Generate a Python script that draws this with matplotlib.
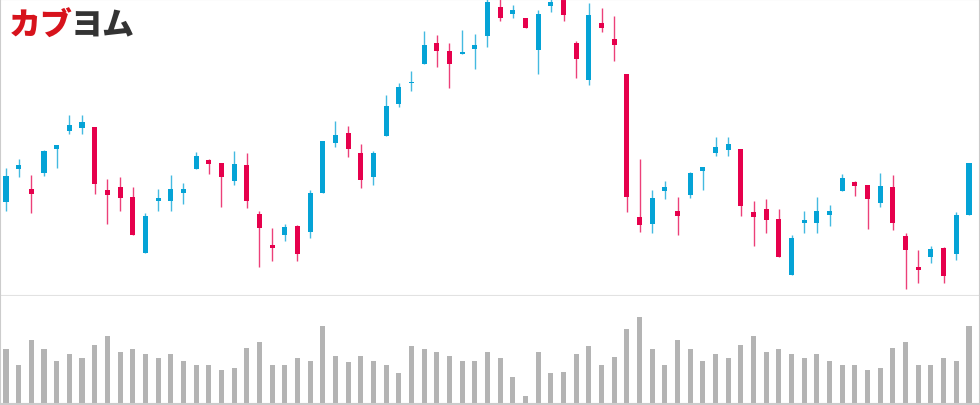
import numpy as np
import matplotlib.pyplot as plt

plt.rcParams['font.family'] = ['Noto Sans CJK JP', 'DejaVu Sans']

# daily prices (arbitrary units), one entry per session
opens = [97.3, 129.7, 110, 126.3, 149.7, 167.7, 171, 172, 108.7, 112.3,
         102, 46, 97.7, 97.7, 105.7, 129.7, 139, 136, 118, 134,
         85, 54.3, 64.3, 72.7, 66.7, 106, 156.3, 166, 146, 122.3,
         163, 194.7, 216, 235, 256.3, 248.3, 245, 250.3, 262.7, 292,
         284.7, 280.7, 248.7, 292.7, 302, 256, 218.7, 276, 260, 224.7,
         82, 75.3, 107.7, 88, 104.3, 127.7, 145.7, 149, 150, 86.7,
         90.3, 80, 24, 75.7, 75.7, 83.7, 107.7, 117, 114, 96,
         112, 63, 32.3, 42.3, 50.7, 44.7, 84]
highs = [131, 140.3, 123.7, 149, 154, 184, 184.3, 172, 119.7, 122.3,
         112.3, 86.3, 110, 124.3, 116, 146.7, 140, 136, 148, 146.3,
         87.7, 70.7, 75, 74.3, 109, 158, 177.7, 172.7, 155, 148,
         203.7, 216, 228, 267.7, 264, 256.3, 269, 265.3, 301, 301,
         294.3, 280.7, 289, 301, 303, 258, 295.7, 290.7, 283, 224.7,
         140.3, 109, 118.3, 101.7, 127, 132, 162, 162.3, 150, 97.7,
         100.3, 90.3, 64.3, 88, 102.3, 94, 124.7, 118, 114, 126,
         124.3, 65.7, 48.7, 53, 52.3, 87, 136]
lows = [87.7, 122.3, 86.3, 122.7, 131.3, 165.3, 165.3, 105, 75, 88,
        64, 46, 87.7, 87.7, 95, 129.7, 125, 91.7, 114, 90.7,
        32, 37.7, 58.3, 38.3, 61.3, 106, 152, 142.3, 111, 114,
        163, 192.3, 207.7, 235, 232.3, 210.7, 245, 230, 252.3, 278.3,
        281.3, 270.7, 225.3, 286.7, 278.3, 221.3, 214, 267.3, 238, 87.3,
        66.7, 65.7, 100.3, 64.3, 100.7, 109.3, 143.3, 143.3, 83, 53,
        66, 42, 24, 65.7, 65.7, 73, 107.7, 103, 69.7, 92,
        68.7, 10, 15.7, 36.3, 16.3, 39.3, 84]
closes = [123.3, 134, 105.3, 147.7, 154, 174, 177, 115, 104, 100.7,
          64, 83.3, 100.7, 109.7, 110, 142.7, 135, 122.3, 135.3, 97.7,
          70.7, 50.7, 72.3, 45.3, 106, 158, 164.3, 150.3, 119, 146,
          193.3, 212.3, 217.3, 254.3, 248.3, 235, 247, 254.3, 297, 281.3,
          289.3, 270.7, 284.7, 297.3, 284, 240, 284, 270.7, 254.3, 102.3,
          74.3, 101.3, 112, 83.3, 125.7, 132, 152, 155, 93, 82,
          78.7, 42, 61.3, 78.7, 87.7, 88, 120.7, 113, 100.3, 113.3,
          75.7, 48.7, 28.7, 50.3, 23.3, 84, 136]
volumes = [54.7, 39, 64, 54.7, 43, 50, 45.7, 59.3, 68, 51.7,
           54.7, 50, 45.7, 50, 43, 38.7, 38.7, 34.3, 35.7, 56,
           62.3, 38.7, 38.7, 46.3, 43, 78, 47.7, 42, 47.7, 43,
           38.7, 31, 58, 54.7, 51.7, 47.7, 43, 43, 52.3, 45.7,
           27, 7.7, 52.3, 31.3, 32.3, 50, 58, 38.7, 46.7, 74.7,
           87, 54.7, 39, 64, 54.7, 43, 50, 45.7, 59.3, 68,
           51.7, 54.7, 50, 45.7, 50, 43, 38.7, 38.7, 34.3, 35.7,
           56, 62.3, 38.7, 38.7, 46.3, 43, 78]

UP = '#05A3D6'
DOWN = '#E6004C'
BORDER = '#CCCCCC'

o = np.array(opens)
h = np.array(highs)
l = np.array(lows)
c = np.array(closes)
x = np.arange(len(o))
colors = np.where(c >= o, UP, DOWN)

fig = plt.figure(figsize=(9.8, 4.06), dpi=100)
ax = fig.add_axes([0, 109 / 406, 1, 297 / 406])
axv = fig.add_axes([0, 1 / 406, 1, 108 / 406])

# candles
ax.vlines(x, l, h, colors=colors, linewidth=1.0, alpha=0.75)
body_lo = np.minimum(o, c)
body_h = np.maximum(np.abs(c - o), 1.2)
ax.bar(x, body_h, bottom=body_lo, width=0.4, color=colors, linewidth=0)

ax.set_xlim(-0.474, 76.87)
ax.set_ylim(3, 300)
ax.set_xticks([])
ax.set_yticks([])
for side in ['top', 'left', 'right']:
    ax.spines[side].set_color(BORDER)
    ax.spines[side].set_linewidth(1.5)
ax.spines['bottom'].set_color('#E2E2E2')
ax.spines['bottom'].set_linewidth(1.5)

# volume
axv.bar(x, volumes, width=0.4, color='#B4B4B4', linewidth=0)
axv.set_xlim(-0.474, 76.87)
axv.set_ylim(0, 108)
axv.set_xticks([])
axv.set_yticks([])
axv.spines['top'].set_visible(False)
for side in ['bottom', 'left', 'right']:
    axv.spines[side].set_color(BORDER)
    axv.spines[side].set_linewidth(1.5)

# logo
fig.text(9 / 980, 1 - 26 / 406, 'カブ', color='#D7131C', fontsize=23,
         fontweight='black', ha='left', va='center')
fig.text(71 / 980, 1 - 26 / 406, 'ヨム', color='#333333', fontsize=23,
         fontweight='black', ha='left', va='center')

fig.savefig('out.png', dpi=100)
